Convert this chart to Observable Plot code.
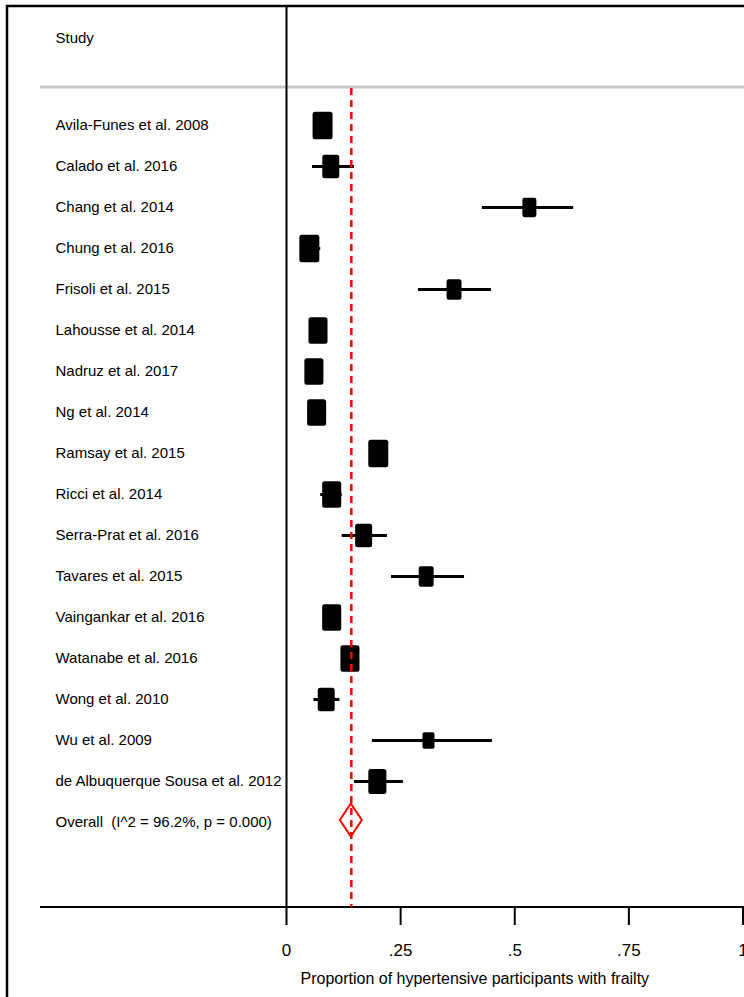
<!DOCTYPE html>
<html><head><meta charset="utf-8">
<script src="https://cdn.jsdelivr.net/npm/d3@7"></script>
<script src="https://cdn.jsdelivr.net/npm/@observablehq/plot@0.6"></script>
<style>body{margin:0;background:#fff}</style>
</head><body><div id="chart"></div>
<script>
const studies = ["Avila-Funes et al. 2008","Calado et al. 2016","Chang et al. 2014","Chung et al. 2016","Frisoli et al. 2015","Lahousse et al. 2014","Nadruz et al. 2017","Ng et al. 2014","Ramsay et al. 2015","Ricci et al. 2014","Serra-Prat et al. 2016","Tavares et al. 2015","Vaingankar et al. 2016","Watanabe et al. 2016","Wong et al. 2010","Wu et al. 2009","de Albuquerque Sousa et al. 2012"];
const estimates = [0.079,0.097,0.532,0.050,0.367,0.069,0.060,0.066,0.201,0.099,0.169,0.306,0.099,0.139,0.087,0.311,0.199];
const lower     = [0.068,0.057,0.429,0.035,0.289,0.058,0.050,0.056,0.194,0.075,0.122,0.230,0.088,0.128,0.060,0.188,0.149];
const upper     = [0.090,0.149,0.629,0.075,0.449,0.080,0.070,0.076,0.207,0.122,0.221,0.390,0.110,0.150,0.117,0.451,0.256];
const weights   = [7.5,5.4,3.7,7.5,4.2,6.8,6.8,6.8,7.5,6.8,5.4,4.2,6.8,6.8,5.4,2.7,6.1];
const overallKey = "Overall";
const overallLabel = "Overall\u00a0 (I^2 = 96.2%, p = 0.000)";
const overallEst = 0.142, overallLo = 0.118, overallHi = 0.166;
const xTicks = [0, 0.25, 0.5, 0.75, 1];
const xTickLabels = ["0", ".25", ".5", ".75", "1"];
const headerLabel = "Study";
const xTitle = "Proportion of hypertensive participants with frailty";

const rows = studies.map((s, i) => ({study: s, est: estimates[i], lo: lower[i], hi: upper[i], w: weights[i]}));

// rounded, slightly tall box symbol (area follows weight)
const box = {
  draw(ctx, size) {
    const r = Math.sqrt(size / Math.PI);
    const hw = r, hh = r * 1.38, c = Math.min(2.5, r * 0.3);
    ctx.moveTo(-hw + c, -hh);
    ctx.lineTo(hw - c, -hh);
    ctx.arcTo(hw, -hh, hw, -hh + c, c);
    ctx.lineTo(hw, hh - c);
    ctx.arcTo(hw, hh, hw - c, hh, c);
    ctx.lineTo(-hw + c, hh);
    ctx.arcTo(-hw, hh, -hw, hh - c, c);
    ctx.lineTo(-hw, -hh + c);
    ctx.arcTo(-hw, -hh, -hw + c, -hh, c);
    ctx.closePath();
  }
};

const decorations = (index, scales, values, dims) => {
  const g = d3.create("svg:g");
  // outer border
  g.append("rect").attr("x", 7).attr("y", 6).attr("width", dims.width + 10).attr("height", dims.height + 10)
    .attr("fill", "none").attr("stroke", "black").attr("stroke-width", 2.5);
  // header separator
  g.append("line").attr("x1", 40).attr("x2", dims.width).attr("y1", 87).attr("y2", 87)
    .attr("stroke", "#c8c8c8").attr("stroke-width", 3);
  // axis baseline
  const yb = dims.height - dims.marginBottom;
  g.append("line").attr("x1", 40).attr("x2", dims.width).attr("y1", yb).attr("y2", yb)
    .attr("stroke", "black").attr("stroke-width", 2);
  return g.node();
};

const diamond = (index, scales) => {
  const x = scales.x, cy = scales.y(overallKey) - 2, h = 16.5;
  const pts = [[x(overallLo), cy], [x(overallEst), cy - h], [x(overallHi), cy], [x(overallEst), cy + h]];
  return d3.create("svg:path").attr("d", "M" + pts.join("L") + "Z")
    .attr("fill", "white").attr("stroke", "#ff0000").attr("stroke-width", 2).node();
};

const chart = Plot.plot({
  width: 744,
  height: 997,
  marginLeft: 0,
  marginRight: 0,
  marginTop: 0,
  marginBottom: 90,
  style: {fontFamily: "'Liberation Sans', Arial, sans-serif", fontSize: "15px", background: "white", color: "black"},
  x: {domain: [0, 1], range: [286, 742.5]},
  y: {type: "point", domain: [...studies, overallKey], range: [121, 826], padding: 0, axis: null},
  marks: [
    decorations,
    Plot.ruleX([0], {insetTop: 6, stroke: "black", strokeWidth: 2}),
    Plot.axisX(xTicks, {
      tickSize: 18, tickPadding: 18, strokeWidth: 2, fontSize: 17, label: null,
      tickFormat: d => xTickLabels[xTicks.indexOf(d)]
    }),
    Plot.ruleY(rows, {y: "study", x1: "lo", x2: "hi", stroke: "black", strokeWidth: 3}),
    Plot.dot(rows, {x: "est", y: "study", r: "w", symbol: box, fill: "black", stroke: null}),
    diamond,
    Plot.ruleX([overallEst], {insetTop: 88, stroke: "#ff0000", strokeWidth: 2.5, strokeDasharray: "7,5"}),
    Plot.text(rows, {y: "study", text: "study", frameAnchor: "left", dx: 55, textAnchor: "start", fontSize: 15}),
    Plot.text([overallLabel], {y: () => overallKey, text: d => d, frameAnchor: "left", dx: 55, textAnchor: "start", fontSize: 15}),
    Plot.text([headerLabel], {text: d => d, frameAnchor: "top-left", dx: 55, dy: 38, textAnchor: "start", lineAnchor: "middle", fontSize: 15}),
    Plot.text([xTitle], {text: d => d, frameAnchor: "bottom-left", dx: 300, dy: 71, textAnchor: "start", lineAnchor: "middle", fontSize: 16})
  ],
  r: {type: "sqrt", domain: [0, 7.5], range: [0, 10]}
});
document.getElementById("chart").append(chart);
</script>
</body></html>
